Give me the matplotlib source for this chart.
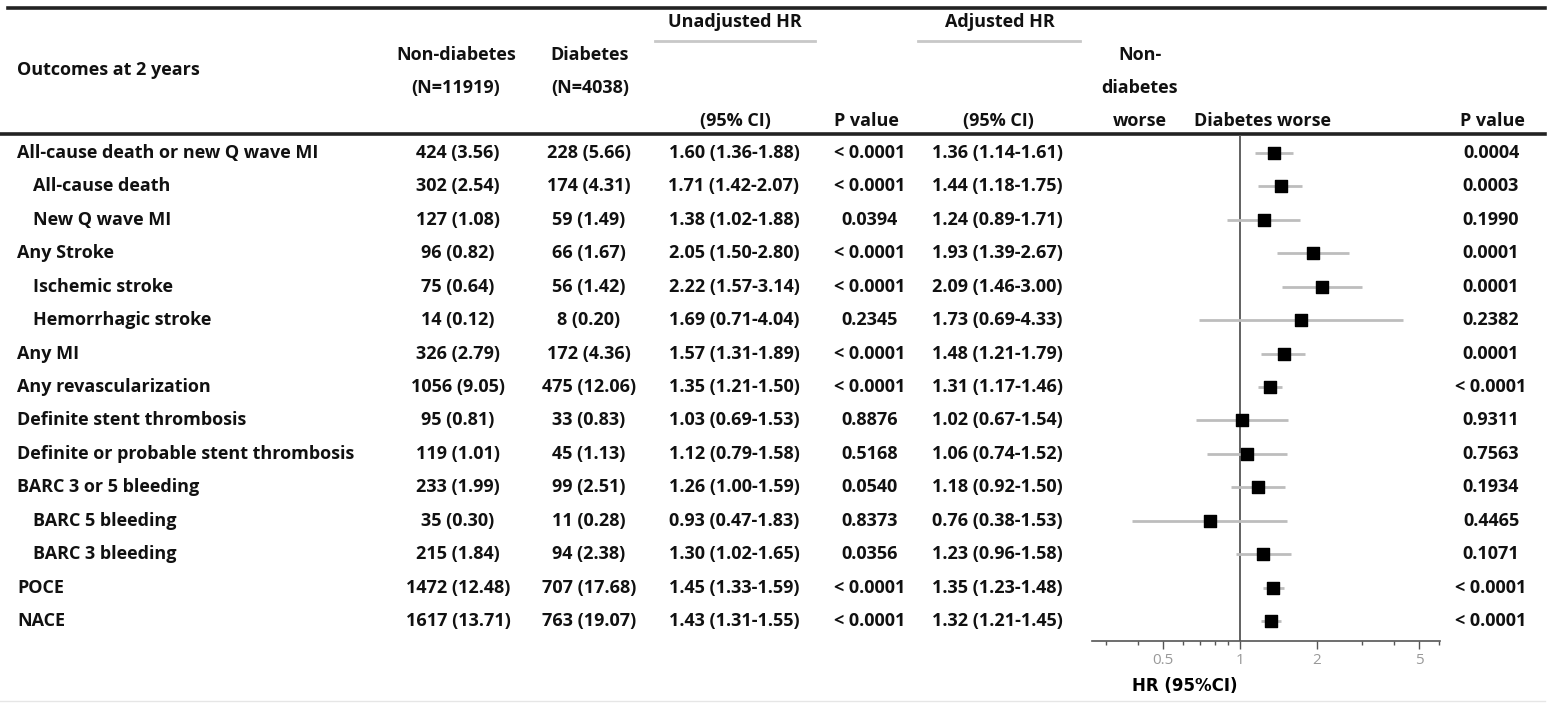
import matplotlib.pyplot as plt
import numpy as np
from matplotlib.ticker import FixedLocator, NullFormatter

plt.rcParams['font.family'] = ['Open Sans', 'DejaVu Sans']

# --- данные ---
outcomes = ["All-cause death or new Q wave MI", "All-cause death", "New Q wave MI",
            "Any Stroke", "Ischemic stroke", "Hemorrhagic stroke", "Any MI",
            "Any revascularization", "Definite stent thrombosis",
            "Definite or probable stent thrombosis", "BARC 3 or 5 bleeding",
            "BARC 5 bleeding", "BARC 3 bleeding", "POCE", "NACE"]
indent = [0, 1, 1, 0, 1, 1, 0, 0, 0, 0, 0, 1, 1, 0, 0]
non_diab = ["424 (3.56)", "302 (2.54)", "127 (1.08)", "96 (0.82)", "75 (0.64)",
            "14 (0.12)", "326 (2.79)", "1056 (9.05)", "95 (0.81)", "119 (1.01)",
            "233 (1.99)", "35 (0.30)", "215 (1.84)", "1472 (12.48)", "1617 (13.71)"]
diab = ["228 (5.66)", "174 (4.31)", "59 (1.49)", "66 (1.67)", "56 (1.42)",
        "8 (0.20)", "172 (4.36)", "475 (12.06)", "33 (0.83)", "45 (1.13)",
        "99 (2.51)", "11 (0.28)", "94 (2.38)", "707 (17.68)", "763 (19.07)"]
unadj = ["1.60 (1.36-1.88)", "1.71 (1.42-2.07)", "1.38 (1.02-1.88)", "2.05 (1.50-2.80)",
         "2.22 (1.57-3.14)", "1.69 (0.71-4.04)", "1.57 (1.31-1.89)", "1.35 (1.21-1.50)",
         "1.03 (0.69-1.53)", "1.12 (0.79-1.58)", "1.26 (1.00-1.59)", "0.93 (0.47-1.83)",
         "1.30 (1.02-1.65)", "1.45 (1.33-1.59)", "1.43 (1.31-1.55)"]
unadj_p = ["< 0.0001", "< 0.0001", "0.0394", "< 0.0001", "< 0.0001", "0.2345",
           "< 0.0001", "< 0.0001", "0.8876", "0.5168", "0.0540", "0.8373",
           "0.0356", "< 0.0001", "< 0.0001"]
adj_hr = [1.36, 1.44, 1.24, 1.93, 2.09, 1.73, 1.48, 1.31, 1.02, 1.06, 1.18, 0.76, 1.23, 1.35, 1.32]
adj_lo = [1.14, 1.18, 0.89, 1.39, 1.46, 0.69, 1.21, 1.17, 0.67, 0.74, 0.92, 0.38, 0.96, 1.23, 1.21]
adj_hi = [1.61, 1.75, 1.71, 2.67, 3.00, 4.33, 1.79, 1.46, 1.54, 1.52, 1.50, 1.53, 1.58, 1.48, 1.45]
adj_p = ["0.0004", "0.0003", "0.1990", "0.0001", "0.0001", "0.2382", "0.0001",
         "< 0.0001", "0.9311", "0.7563", "0.1934", "0.4465", "0.1071",
         "< 0.0001", "< 0.0001"]
major_ticks = [0.5, 1, 2, 5]
minor_ticks = [0.3, 0.4, 0.6, 0.7, 0.8, 0.9, 3, 4, 6]

W, H = 1551, 703
fig = plt.figure(figsize=(W / 100, H / 100), dpi=100)

# слой таблицы в пиксельных координатах
tab = fig.add_axes([0, 0, 1, 1])
tab.set_xlim(0, W)
tab.set_ylim(H, 0)
tab.axis('off')

row0, step = 153, 33.43
fs = 13
kw = dict(fontsize=fs, fontweight='bold', va='center', color='#111111')

# шапка
tab.text(17, 70, "Outcomes at 2 years", ha='left', **kw)
for x, lines in [(456, ["Non-diabetes", "(N=11919)"]), (590, ["Diabetes", "(N=4038)"])]:
    tab.text(x, 55, lines[0], ha='center', **kw)
    tab.text(x, 88, lines[1], ha='center', **kw)
tab.text(735, 22, "Unadjusted HR", ha='center', **kw)
tab.text(1000, 22, "Adjusted HR", ha='center', **kw)
tab.plot([655, 815], [41, 41], color='#c8c8c8', lw=2)
tab.plot([918, 1080], [41, 41], color='#c8c8c8', lw=2)
for x, t in [(735, "(95% CI)"), (866, "P value"), (998, "(95% CI)"),
             (1262, "Diabetes worse"), (1492, "P value")]:
    tab.text(x, 121, t, ha='center', **kw)
for y, t in [(55, "Non-"), (88, "diabetes"), (121, "worse")]:
    tab.text(1140, y, t, ha='center', **kw)

tab.plot([8, 1545], [8, 8], color='#222222', lw=2.6)
tab.plot([0, 1545], [134, 134], color='#222222', lw=2.6)
tab.plot([0, 1545], [701, 701], color='#e6e6e6', lw=1)

# строки таблицы
for i, name in enumerate(outcomes):
    y = row0 + step * i
    tab.text(17 + 16 * indent[i], y, name, ha='left', **kw)
    tab.text(458, y, non_diab[i], ha='center', **kw)
    tab.text(589, y, diab[i], ha='center', **kw)
    tab.text(734, y, unadj[i], ha='center', **kw)
    tab.text(870, y, unadj_p[i], ha='center', **kw)
    tab.text(997, y, f"{adj_hr[i]:.2f} ({adj_lo[i]:.2f}-{adj_hi[i]:.2f})", ha='center', **kw)
    tab.text(1491, y, adj_p[i], ha='center', **kw)

# forest plot
x0, x1 = 1092, 1440
ytop, ybot = 135, 641
ax = fig.add_axes([x0 / W, 1 - ybot / H, (x1 - x0) / W, (ybot - ytop) / H])
ax.patch.set_alpha(0)
ax.set_xscale('log')
ax.set_xlim(0.264, 6.04)
rows = np.arange(len(outcomes))
ax.set_ylim((ybot - row0) / step, (ytop - row0) / step)

ax.hlines(rows, adj_lo, adj_hi, color='#bdbdbd', lw=2, zorder=2)
ax.scatter(adj_hr, rows, marker='s', s=75, color='black', zorder=3)
ax.axvline(1, color='#555555', lw=1.3, zorder=1)

for s in ['top', 'right', 'left']:
    ax.spines[s].set_visible(False)
ax.spines['bottom'].set_color('#555555')
ax.spines['bottom'].set_linewidth(1.2)
ax.set_yticks([])
ax.xaxis.set_major_locator(FixedLocator(major_ticks))
ax.xaxis.set_minor_locator(FixedLocator(minor_ticks))
ax.xaxis.set_minor_formatter(NullFormatter())
ax.set_xticklabels([str(t) for t in major_ticks])
ax.tick_params(axis='x', which='major', length=6, width=1, color='#555555',
               labelsize=11, labelcolor='#999999', pad=3)
ax.tick_params(axis='x', which='minor', length=3, width=1, color='#555555')

tab.text(1185, 686, "HR (95%CI)", ha='center', va='center', fontsize=12,
         fontweight='bold', family=['DejaVu Sans'])

fig.savefig('out.png', dpi=100)
